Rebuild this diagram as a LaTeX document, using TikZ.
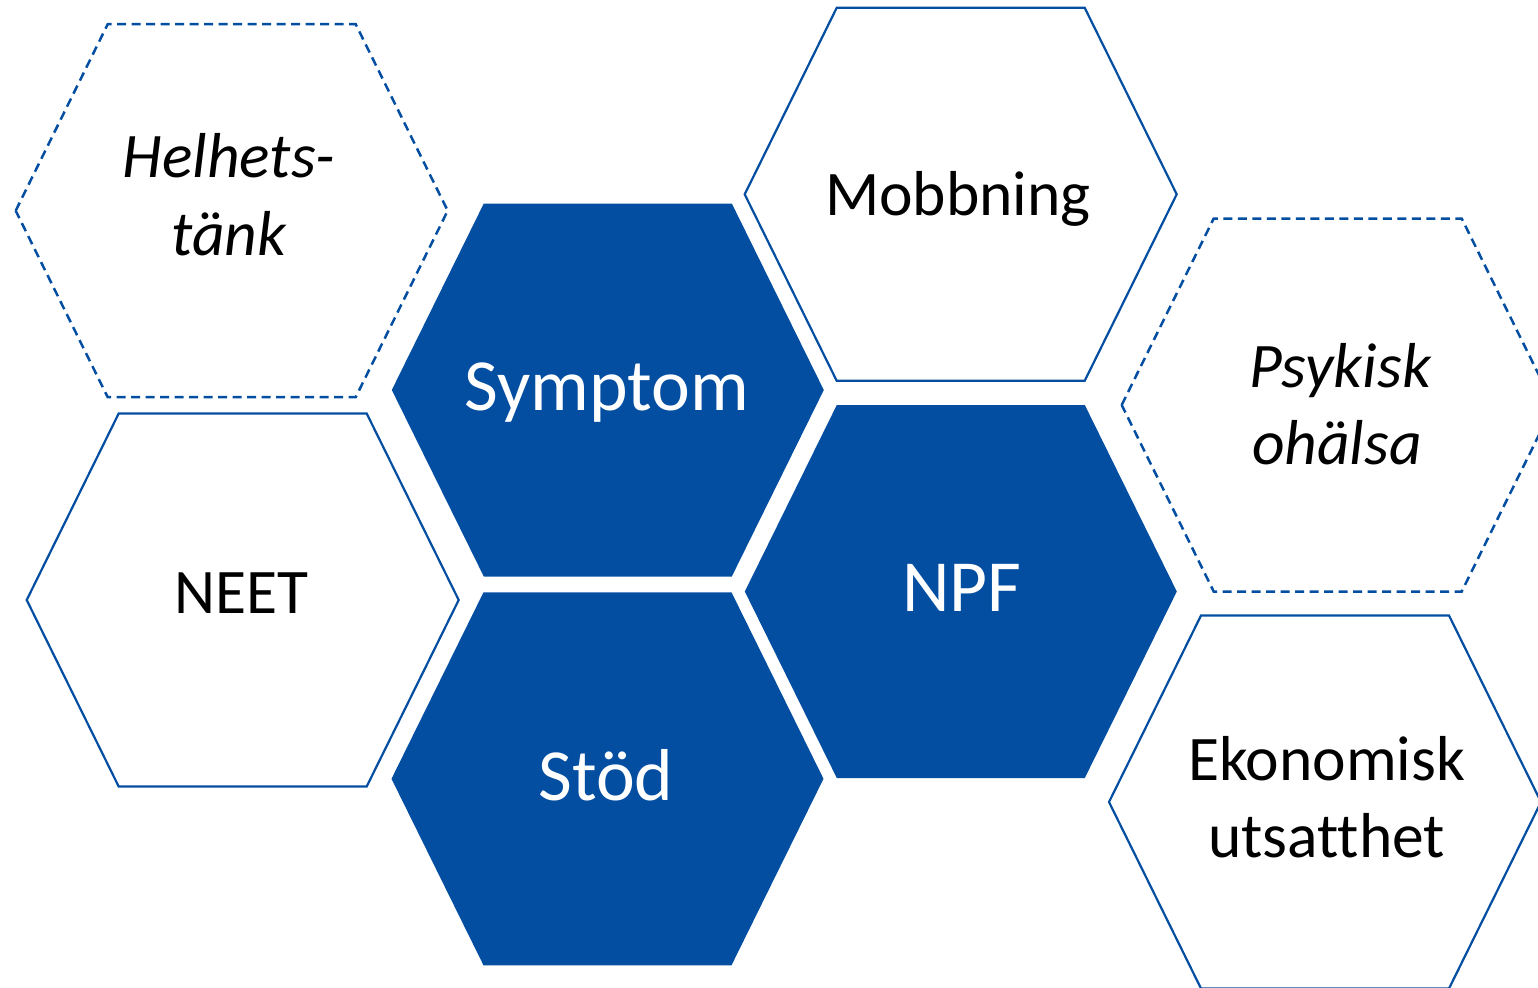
\documentclass[tikz,border=0pt]{standalone}
\usepackage{fontspec}
\setmainfont{Carlito}[Ligatures=NoCommon]
\definecolor{hexblue}{RGB}{4,78,162}
\tikzset{
  hexagon/.pic={\path[pic actions] (-216,0) -- (-124,-186.5) -- (124,-186.5) -- (216,0) -- (124,186.5) -- (-124,186.5) -- cycle;},
  hexline/.style={draw=hexblue, line width=2.2pt, line join=miter},
  hexdash/.style={hexline, line width=2.5pt, dash pattern=on 9pt off 5.5pt},
  hexfill/.style={fill=hexblue},
  blk/.style={font=\fontsize{63.5}{76}\selectfont, text=black, anchor=base, inner sep=0pt},
  blkit/.style={blk, font=\fontsize{63.5}{76}\selectfont\itshape},
  wht/.style={font=\fontsize{73.5}{88}\selectfont, text=white, anchor=base, inner sep=0pt}
}
\begin{document}
\begin{tikzpicture}[x=1pt,y=-1pt]
\useasboundingbox (0,0) rectangle (1538,987);
\clip (0,0) rectangle (1538,987);
% filled hexagons
\pic[hexfill] at (607.8,390) {hexagon};
\pic[hexfill] at (960.8,591.5) {hexagon};
\pic[hexfill] at (607.5,778.8) {hexagon};
% outlined hexagons
\pic[hexdash] at (231.7,210.7) {hexagon};
\pic[hexline] at (960.7,194.3) {hexagon};
\pic[hexdash] at (1337.7,405) {hexagon};
\pic[hexline] at (242.7,600) {hexagon};
\pic[hexline] at (1325,802) {hexagon};
% labels
\node[blkit] (helhets) at (229,178) {Helhets-};
\node[blkit] (tank) at (229,255) {tänk};
\node[wht] (symptom) at (607,410.7) {Symptom};
\node[blk] (mobbning) at (958,215) {Mobbning};
\node[blkit] (psykisk) at (1340,387) {Psykisk};
\node[blkit] (ohalsa) at (1337,464) {ohälsa};
\node[blk] (neet) at (241,613.3) {NEET};
\node[wht] (npf) at (962,611.7) {NPF};
\node[wht] (stod) at (606,800) {Stöd};
\node[blk] (ekonomisk) at (1326.7,780) {Ekonomisk};
\node[blk] (utsatthet) at (1326.7,857) {utsatthet};
\end{tikzpicture}
\end{document}
